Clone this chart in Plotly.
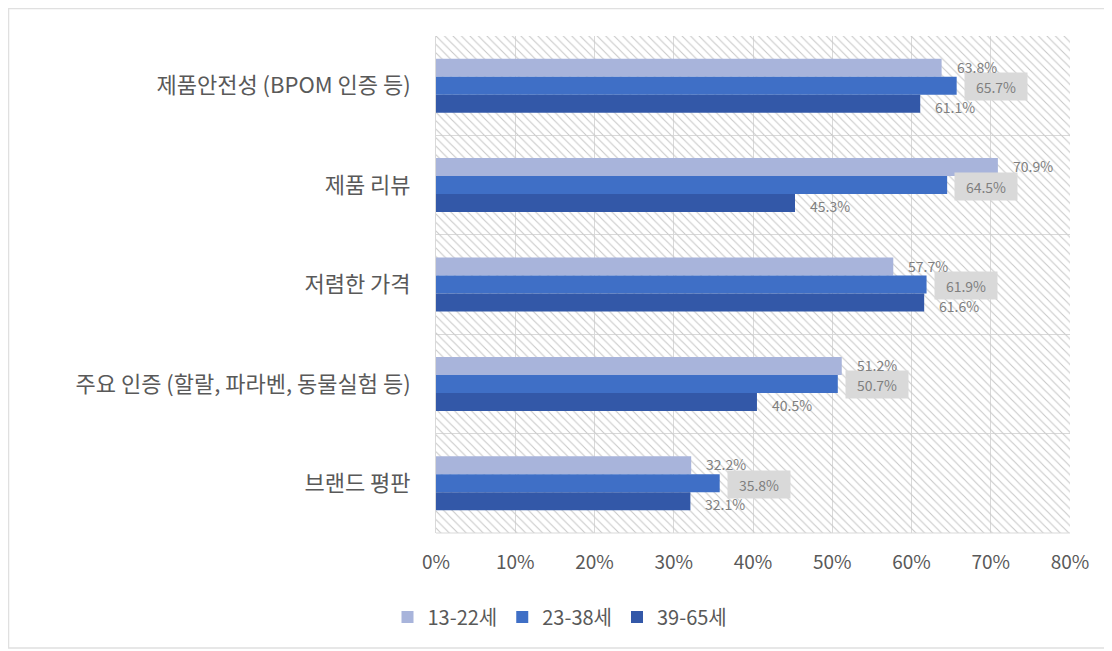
import plotly.graph_objects as go

categories = ["제품안전성 (BPOM 인증 등)", "제품 리뷰", "저렴한 가격",
              "주요 인증 (할랄, 파라벤, 동물실험 등)", "브랜드 평판"]
series_names = ["13-22세", "23-38세", "39-65세"]
s1 = [63.8, 70.9, 57.7, 51.2, 32.2]
s2 = [65.7, 64.5, 61.9, 50.7, 35.8]
s3 = [61.1, 45.3, 61.6, 40.5, 32.1]
x_ticks = [0, 10, 20, 30, 40, 50, 60, 70, 80]
x_tick_text = [f"{v}%" for v in x_ticks]
x_max = 80

colors = ["#a8b4db", "#3f6fc6", "#3358a8"]
bar_w = 0.181
offsets = [-0.2715, -0.0905, 0.0905]
FONT = "Noto Sans CJK KR"

W, H = 1104, 643
L, R, T, B = 428, 42, 28, 118
PW, PH = W - L - R, H - T - B

fig = go.Figure()
# hatched plot-area background
fig.add_trace(go.Bar(
    x=[x_max] * len(categories), y=categories, orientation="h",
    width=1, offset=-0.5, showlegend=False, hoverinfo="skip",
    marker=dict(color="#c8c8c8", line=dict(width=0),
                pattern=dict(shape="\\", fillmode="replace", size=6, solidity=0.18)),
))
for name, vals, c, off in zip(series_names, [s1, s2, s3], colors, offsets):
    fig.add_trace(go.Bar(
        x=vals, y=categories, orientation="h", name=name,
        width=bar_w, offset=off, marker=dict(color=c, line=dict(width=0)),
    ))

annotations = []
lab_font = dict(family=FONT, size=14, color="#7f7f7f")
# bottom series labels first (partly hidden by the boxed middle labels)
for cat, v in zip(categories, s3):
    annotations.append(dict(x=v, y=cat, xref="x", yref="y", text=f"{v:.1f}%",
                            showarrow=False, xanchor="left", xshift=13, yshift=-21,
                            font=lab_font))
for cat, v in zip(categories, s2):
    annotations.append(dict(x=v, y=cat, xref="x", yref="y", text=f"{v:.1f}%",
                            showarrow=False, xanchor="left", xshift=7, yshift=-1,
                            width=60, height=25, bgcolor="#d9d9d9", align="center",
                            font=lab_font))
for cat, v in zip(categories, s1):
    annotations.append(dict(x=v, y=cat, xref="x", yref="y", text=f"{v:.1f}%",
                            showarrow=False, xanchor="left", xshift=13, yshift=19,
                            font=lab_font))

fig.update_layout(
    barmode="overlay",
    width=W, height=H,
    margin=dict(l=L, r=R, t=T, b=B),
    paper_bgcolor="white", plot_bgcolor="white",
    font=dict(family=FONT, color="#595959"),
    annotations=annotations,
    xaxis=dict(range=[0, x_max], tickvals=x_ticks, ticktext=x_tick_text,
               showgrid=True, gridcolor="#d9d9d9", gridwidth=1, zeroline=False,
               showline=False, tickfont=dict(size=19, color="#595959"),
               ticklabelstandoff=16, fixedrange=True),
    yaxis=dict(autorange="reversed", tickson="boundaries", showgrid=True,
               gridcolor="#d9d9d9", gridwidth=1, showline=True, linecolor="#d9d9d9",
               tickfont=dict(size=22, color="#595959"), ticklabelstandoff=20),
    legend=dict(orientation="h", xref="container", x=0.5, xanchor="center",
                yref="container", y=1 - 609 / H, yanchor="middle",
                font=dict(size=20, color="#595959"), itemwidth=30,
                traceorder="normal"),
    shapes=[dict(type="rect", xref="paper", yref="paper",
                 x0=-(L - 0.5) / PW, x1=1 + (R - 3) / PW,
                 y0=-(B - 3) / PH, y1=1 + (T - 0.5) / PH,
                 line=dict(color="#e0e0e0", width=1.5), layer="below")],
)
# x axis baseline
fig.add_shape(type="line", xref="paper", yref="paper", x0=0, x1=1, y0=0, y1=0,
              line=dict(color="#d9d9d9", width=1))

fig.write_html("out.html")
